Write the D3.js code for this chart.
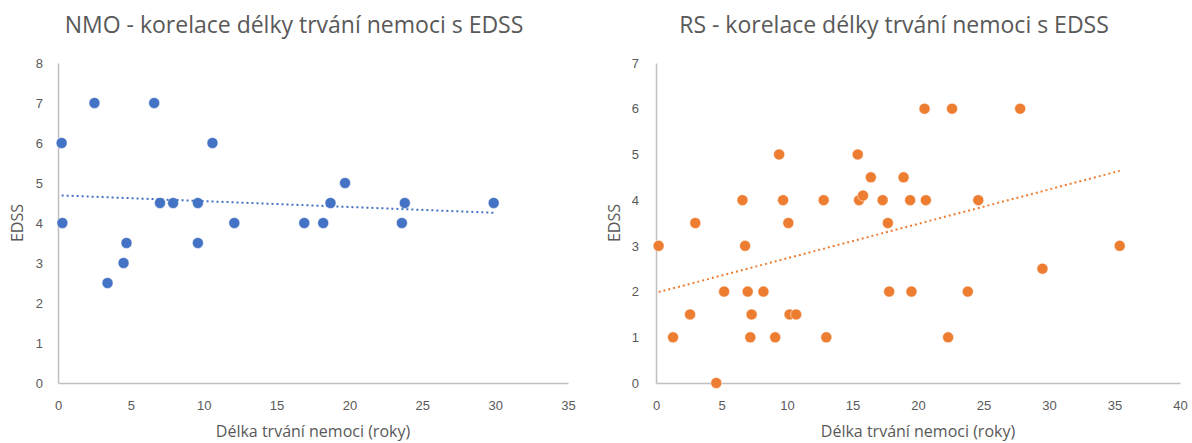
<!DOCTYPE html>
<html>
<head>
<meta charset="utf-8">
<script src="https://cdn.jsdelivr.net/npm/d3@7"></script>
<style>
  body { margin: 0; background: #fff; }
  svg { display: block; font-family: "Open Sans", "Noto Sans", sans-serif; }
  .tick text { fill: #595959; font-size: 13px; }
  .domain { stroke: #bfbfbf; stroke-width: 1.5; }
</style>
</head>
<body>
<svg id="chart" width="1192" height="443"></svg>
<script>
// NMO - disease duration (years) vs EDSS
const nmoYears = [0.25, 0.3, 2.5, 3.4, 4.5, 4.7, 6.6, 7.0, 7.9, 9.6, 9.6, 10.6, 12.1, 16.9, 18.2, 18.7, 19.7, 23.6, 23.8, 29.9];
const nmoEdss  = [6,    4,   7,   2.5, 3,   3.5, 7,   4.5, 4.5, 4.5, 3.5, 6,    4,    4,    4,    4.5,  5,    4,    4.5,  4.5];

// RS - disease duration (years) vs EDSS
const rsYears = [0.2, 1.3, 2.6, 3.0, 4.6, 5.2, 6.6, 6.8, 7.0, 7.2, 7.3, 8.2, 9.1, 9.4, 9.7, 10.1, 10.2, 10.7, 12.8, 13.0,
                 15.4, 15.5, 15.8, 16.4, 17.3, 17.7, 17.8, 18.9, 19.4, 19.5, 20.5, 20.6, 22.3, 22.6, 23.8, 24.6, 27.8, 29.5, 35.4];
const rsEdss  = [3,   1,   1.5, 3.5, 0,   2,   4,   3,   2,   1,   1.5, 2,   1,   5,   4,   3.5,  1.5,  1.5,  4,    1,
                 5,    4,    4.1,  4.5,  4,    3.5,  2,    4.5,  4,    2,    6,    4,    1,    6,    2,    4,    6,    2.5,  3];

const nmoXTicks = [0, 5, 10, 15, 20, 25, 30, 35];
const nmoYTicks = [0, 1, 2, 3, 4, 5, 6, 7, 8];
const rsXTicks = [0, 5, 10, 15, 20, 25, 30, 35, 40];
const rsYTicks = [0, 1, 2, 3, 4, 5, 6, 7];

const svg = d3.select('#chart');

function drawPanel(opts) {
  const { title, xs, ys, xTicks, yTicks, color, left, right, top, bottom, titleX, yLabelX, yPad } = opts;

  const x = d3.scaleLinear().domain([0, d3.max(xTicks)]).range([left, right]);
  const y = d3.scaleLinear().domain([0, d3.max(yTicks)]).range([bottom, top]);

  svg.append('text')
    .attr('x', titleX)
    .attr('y', 33)
    .attr('text-anchor', 'middle')
    .attr('fill', '#595959')
    .attr('font-size', 23)
    .text(title);

  svg.append('g')
    .attr('transform', `translate(0,${bottom})`)
    .call(d3.axisBottom(x).tickValues(xTicks).tickFormat(d3.format('d')).tickSize(0).tickPadding(18));

  svg.append('g')
    .attr('transform', `translate(${left},0)`)
    .call(d3.axisLeft(y).tickValues(yTicks).tickFormat(d3.format('d')).tickSize(0).tickPadding(yPad));

  svg.append('text')
    .attr('x', (left + right) / 2)
    .attr('y', 437)
    .attr('text-anchor', 'middle')
    .attr('fill', '#595959')
    .attr('font-size', 16)
    .text('Délka trvání nemoci (roky)');

  svg.append('text')
    .attr('transform', `translate(${yLabelX},${(top + bottom) / 2}) rotate(-90)`)
    .attr('text-anchor', 'middle')
    .attr('fill', '#595959')
    .attr('font-size', 16)
    .text('EDSS');

  const pts = xs.map((d, i) => ({ x: d, y: ys[i] }));

  // linear trendline (least squares)
  const mx = d3.mean(pts, d => d.x);
  const my = d3.mean(pts, d => d.y);
  const slope = d3.sum(pts, d => (d.x - mx) * (d.y - my)) / d3.sum(pts, d => (d.x - mx) ** 2);
  const icpt = my - slope * mx;
  const [x0, x1] = d3.extent(pts, d => d.x);

  svg.append('g').selectAll('circle')
    .data(pts)
    .enter()
    .append('circle')
    .attr('cx', d => x(d.x))
    .attr('cy', d => y(d.y))
    .attr('r', 5.5)
    .attr('fill', color)
    .attr('stroke', '#fff')
    .attr('stroke-width', 0.5);

  svg.append('line')
    .attr('x1', x(x0)).attr('y1', y(icpt + slope * x0))
    .attr('x2', x(x1)).attr('y2', y(icpt + slope * x1))
    .attr('stroke', color)
    .attr('stroke-width', 2)
    .attr('stroke-dasharray', '2,3');
}

drawPanel({
  title: 'NMO - korelace délky trvání nemoci s EDSS',
  xs: nmoYears, ys: nmoEdss, xTicks: nmoXTicks, yTicks: nmoYTicks,
  color: '#4472c4', left: 58, right: 568, top: 63, bottom: 383,
  titleX: 294, yLabelX: 23, yPad: 15
});

drawPanel({
  title: 'RS - korelace délky trvání nemoci s EDSS',
  xs: rsYears, ys: rsEdss, xTicks: rsXTicks, yTicks: rsYTicks,
  color: '#ed7d31', left: 656, right: 1180, top: 63, bottom: 383,
  titleX: 894, yLabelX: 620, yPad: 17
});
</script>
</body>
</html>
